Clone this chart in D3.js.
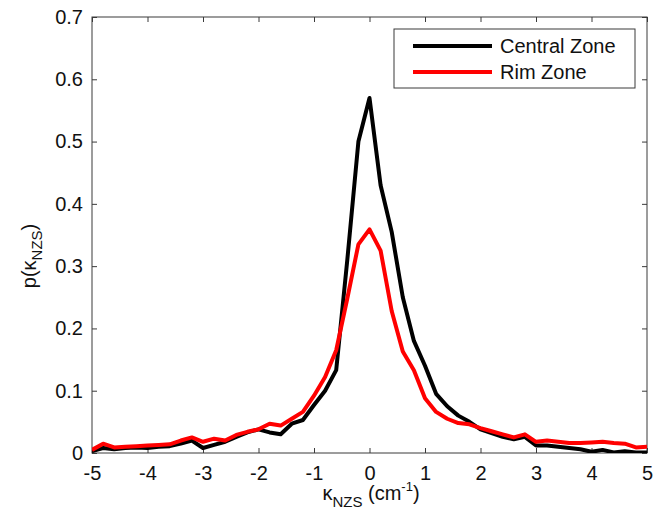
<!DOCTYPE html>
<html><head><meta charset="utf-8">
<script src="https://cdn.jsdelivr.net/npm/d3@7"></script>
<style>body{margin:0;background:#fff}svg{display:block;font-family:"Liberation Sans",Arial,sans-serif}</style>
</head><body>
<svg id="c" width="664" height="509"></svg>
<script>
const xValues = [-5.0,-4.8,-4.6,-4.4,-4.2,-4.0,-3.8,-3.6,-3.4,-3.2,-3.0,-2.8,-2.6,-2.4,-2.2,-2.0,-1.8,-1.6,-1.4,-1.2,-1.0,-0.8,-0.6,-0.4,-0.2,0,0.2,0.4,0.6,0.8,1.0,1.2,1.4,1.6,1.8,2.0,2.2,2.4,2.6,2.8,3.0,3.2,3.4,3.6,3.8,4.0,4.2,4.4,4.6,4.8,5.0];
const centralZone = [0.003,0.008,0.006,0.008,0.009,0.008,0.010,0.011,0.015,0.020,0.008,0.013,0.018,0.026,0.033,0.038,0.033,0.030,0.047,0.053,0.077,0.100,0.133,0.310,0.500,0.570,0.430,0.355,0.250,0.180,0.140,0.095,0.075,0.060,0.050,0.038,0.032,0.026,0.022,0.026,0.012,0.012,0.010,0.008,0.006,0.002,0.005,0.001,0.003,0.001,0.001];
const rimZone = [0.005,0.015,0.009,0.010,0.011,0.012,0.013,0.014,0.020,0.025,0.018,0.023,0.020,0.029,0.034,0.038,0.047,0.044,0.055,0.066,0.092,0.122,0.165,0.248,0.335,0.359,0.325,0.228,0.163,0.133,0.088,0.066,0.055,0.048,0.046,0.040,0.035,0.030,0.025,0.030,0.018,0.020,0.018,0.016,0.016,0.017,0.018,0.016,0.015,0.009,0.010];
const seriesNames = ["Central Zone","Rim Zone"];
const seriesColors = ["#000000","#ff0000"];
const xTicks = [-5,-4,-3,-2,-1,0,1,2,3,4,5];
const xTickLabels = ["-5","-4","-3","-2","-1","0","1","2","3","4","5"];
const yTicks = [0,0.1,0.2,0.3,0.4,0.5,0.6,0.7];
const yTickLabels = ["0","0.1","0.2","0.3","0.4","0.5","0.6","0.7"];

const svg = d3.select("#c");
const L=92,R=647,T=17,B=453;
const x = d3.scaleLinear().domain([-5,5]).range([L,R]);
const y = d3.scaleLinear().domain([0,0.7]).range([B,T]);
const axisColor="#3a3a3a";

svg.append("clipPath").attr("id","pc").append("rect").attr("x",L).attr("y",T-5).attr("width",R-L).attr("height",B-T+5);

svg.append("rect").attr("x",L).attr("y",T).attr("width",R-L).attr("height",B-T)
  .attr("fill","none").attr("stroke",axisColor).attr("stroke-width",1);

const gB = svg.append("g").attr("transform",`translate(0,${B})`)
  .call(d3.axisBottom(x).tickValues(xTicks).tickSize(-5).tickPadding(12).tickFormat((d,i)=>xTickLabels[i]));
const gT = svg.append("g").attr("transform",`translate(0,${T})`)
  .call(d3.axisTop(x).tickValues(xTicks).tickSize(-5).tickFormat(""));
const gL = svg.append("g").attr("transform",`translate(${L},0)`)
  .call(d3.axisLeft(y).tickValues(yTicks).tickSize(-5).tickPadding(9).tickFormat((d,i)=>yTickLabels[i]));
const gR = svg.append("g").attr("transform",`translate(${R},0)`)
  .call(d3.axisRight(y).tickValues(yTicks).tickSize(-5).tickFormat(""));
[gB,gT,gL,gR].forEach(g=>{
  g.select(".domain").remove();
  g.selectAll(".tick line").attr("stroke",axisColor);
  g.selectAll("text").attr("font-size",20).attr("fill","#111").attr("font-family","Liberation Sans, Arial, sans-serif");
});
gB.selectAll("text").attr("dy","0.75em");

const line = d3.line().x((d,i)=>x(xValues[i])).y(d=>y(d));
const pg = svg.append("g").attr("clip-path","url(#pc)");
[centralZone,rimZone].forEach((s,k)=>{
  pg.append("path").datum(s).attr("d",line).attr("fill","none")
    .attr("stroke",seriesColors[k]).attr("stroke-width",4).attr("stroke-linejoin","round");
});

const lg = svg.append("g");
lg.append("rect").attr("x",394).attr("y",29).attr("width",241).attr("height",59)
  .attr("fill","#fff").attr("stroke",axisColor).attr("stroke-width",1);
seriesNames.forEach((n,i)=>{
  const yy = 46 + i*26;
  lg.append("line").attr("x1",413).attr("x2",492).attr("y1",yy).attr("y2",yy)
    .attr("stroke",seriesColors[i]).attr("stroke-width",4);
  lg.append("text").attr("x",500).attr("y",yy+7).attr("font-size",20).attr("fill","#111").text(n);
});

const yl = svg.append("text").attr("transform","translate(36,256) rotate(-90)")
  .attr("text-anchor","middle").attr("font-size",20).attr("fill","#111");
yl.append("tspan").text("p(κ");
yl.append("tspan").attr("font-size",15).attr("dy",6).text("NZS");
yl.append("tspan").attr("dy",-6).text(")");

const xl = svg.append("text").attr("x",371).attr("y",500)
  .attr("text-anchor","middle").attr("font-size",20).attr("fill","#111");
xl.append("tspan").text("κ");
xl.append("tspan").attr("font-size",15).attr("dy",7).text("NZS");
xl.append("tspan").attr("dy",-7).text(" (cm");
xl.append("tspan").attr("font-size",13).attr("dy",-9).text("-1");
xl.append("tspan").attr("dy",9).text(")");
</script>
</body></html>
